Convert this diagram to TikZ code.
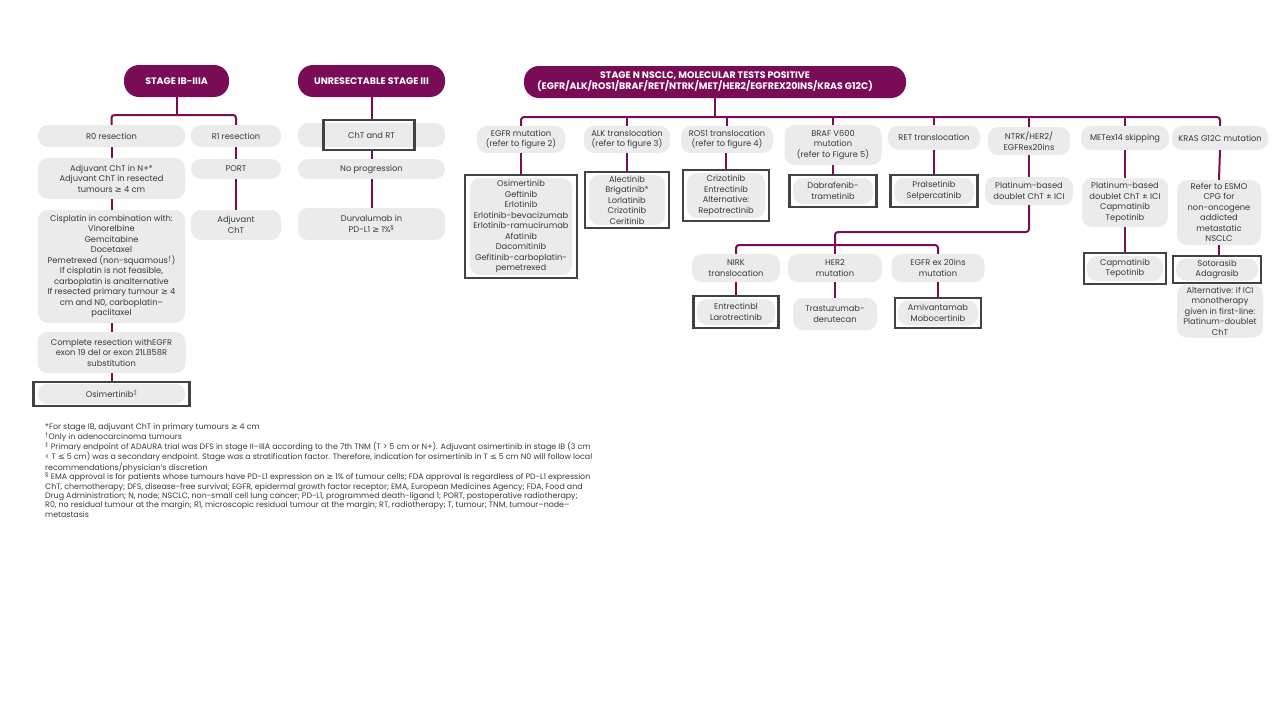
\documentclass[tikz,border=0pt]{standalone}
\usepackage{fontspec}
\setmainfont{Poppins}
\newfontfamily\symf{DejaVu Sans}
\newcommand\GEs{{\symf ≥}}
\newcommand\LEs{{\symf ≤}}
\definecolor{mar}{HTML}{7A0C57}
\definecolor{gbg}{HTML}{EBEBEB}
\definecolor{frc}{HTML}{3E4444}
\definecolor{txt}{HTML}{3A3A3A}
\begin{document}
\begin{tikzpicture}[x=1pt,y=-1pt,
 hdr/.style={fill=mar,text=white,rounded corners=15pt,font=\bfseries\fontsize{9.45}{11}\selectfont,align=center,inner sep=0pt,minimum height=32pt},
 gb/.style={fill=gbg,text=txt,rounded corners=10pt,font=\fontsize{8.3}{10.5}\selectfont,align=center,inner sep=0pt},
 frm/.style={draw=frc,line width=2.3pt,inner sep=0pt},
 wire/.style={draw=mar,line width=2pt},
]
\useasboundingbox[fill=white] (0,0) rectangle (1280,720);

% ---------- left column ----------
\node[hdr,minimum width=105pt] (h1) at (176.5,81) {STAGE IB-IIIA};
\node[gb,minimum width=147pt,minimum height=22pt] (r0) at (111.5,136) {R0 resection};
\node[gb,minimum width=90pt,minimum height=22pt] (r1) at (236,136) {R1 resection};
\node[gb,minimum width=147pt,minimum height=41pt] (a1) at (111.5,178.5) {Adjuvant ChT in N+*\\Adjuvant ChT in resected\\tumours \GEs{} 4 cm};
\node[gb,minimum width=90pt,minimum height=20pt] (port) at (236,169) {PORT};
\node[gb,minimum width=147pt,minimum height=113pt] (cis) at (111.5,266.5) {Cisplatin in combination with:\\Vinorelbine\\Gemcitabine\\Docetaxel\\Pemetrexed (non-squamous\textsuperscript{†})\\If cisplatin is not feasible,\\carboplatin is analternative\\If resected primary tumour \GEs{} 4\\cm and N0, carboplatin–\\paclitaxel};
\node[gb,minimum width=90pt,minimum height=30pt] (adj) at (236,225) {Adjuvant\\ChT};
\node[gb,minimum width=148pt,minimum height=41pt] (cr) at (111.5,352.5) {Complete resection withEGFR\\exon 19 del or exon 21L858R\\substitution};
\node[gb,minimum width=148pt,minimum height=20pt] (osi) at (111.5,394) {Osimertinib\textsuperscript{‡}};
\node[frm,minimum width=156pt,minimum height=24pt] (osif) at (111.5,394) {};

\coordinate (b1) at (176.5,115);
\draw[wire] (h1.south) -- (b1);
\draw[wire,rounded corners=3pt] (r0.north) |- (b1) -| (r1.north);
\draw[wire] (r0) -- (a1);
\draw[wire] (a1) -- (cis);
\draw[wire] (cis) -- (cr);
\draw[wire] (cr) -- (osif);
\draw[wire] (r1) -- (port);
\draw[wire] (port) -- (adj);

% ---------- middle column ----------
\node[hdr,minimum width=147pt] (h2) at (371.5,81) {UNRESECTABLE STAGE III};
\node[gb,minimum width=147pt,minimum height=24pt] (crt) at (371.5,135) {ChT and RT};
\node[frm,minimum width=91pt,minimum height=30pt] (crtf) at (369,135) {};
\node[gb,minimum width=147pt,minimum height=20pt] (np) at (371.5,169) {No progression};
\node[gb,minimum width=147pt,minimum height=32pt] (du) at (371.5,224) {Durvalumab in\\PD-L1 \GEs{} 1\%\textsuperscript{§}};
\draw[wire] (h2.south) -- (h2.south |- crtf.north);
\draw[wire] (np.north |- crtf.south) -- (np.north);
\draw[wire] (np) -- (du);

% ---------- right part ----------
\node[hdr,minimum width=382pt] (h3) at (715,82) {};
\node[hdr,fill=none] (h3t) at (705,82) {STAGE N NSCLC, MOLECULAR TESTS POSITIVE\\(EGFR/ALK/ROS1/BRAF/RET/NTRK/MET/HER2/EGFREX20INS/KRAS G12C)};

\node[gb,minimum width=88pt,minimum height=27pt] (egfr) at (521,139.5) {EGFR mutation\\(refer to figure 2)};
\node[gb,minimum width=86pt,minimum height=27pt] (alk) at (627,139.5) {ALK translocation\\(refer to figure 3)};
\node[gb,minimum width=92pt,minimum height=27pt] (ros) at (727,139.5) {ROS1 translocation\\(refer to figure 4)};
\node[gb,minimum width=97pt,minimum height=40pt] (braf) at (833,145) {BRAF V600\\mutation\\(refer to Figure 5)};
\node[gb,minimum width=92pt,minimum height=24pt] (ret) at (934,137.5) {RET translocation};
\node[gb,minimum width=82pt,minimum height=28pt] (ntrk) at (1029,141) {NTRK/HER2/\\EGFRex20ins};
\node[gb,minimum width=88pt,minimum height=24pt] (met) at (1125,138) {METex14 skipping};
\node[gb,minimum width=96pt,minimum height=24pt] (kras) at (1220,138) {KRAS G12C mutation};

\coordinate (b3) at (715,117);
\draw[wire] (h3.south) -- (b3);
\draw[wire,rounded corners=3pt] (egfr.north) |- (b3) -| (kras.north);
\foreach \n in {alk,ros,braf,ret,ntrk,met}
  \draw[wire] (\n.north) -- (\n.north |- b3);

% third level
\node[gb,minimum width=102pt,minimum height=97pt] (egfrd) at (521,226.5) {Osimertinib\\Geftinib\\Erlotinib\\Erlotinib-bevacizumab\\Erlotinib-ramucirumab\\Afatinib\\Dacomitinib\\Gefitinib-carboplatin-\\pemetrexed};
\node[frm,minimum width=112pt,minimum height=103pt] (egfrf) at (521,226.5) {};
\node[gb,minimum width=76pt,minimum height=50pt] (alkd) at (627,200) {Alectinib\\Brigatinib*\\Lorlatinib\\Crizotinib\\Ceritinib};
\node[frm,minimum width=84pt,minimum height=56pt] (alkf) at (627,200) {};
\node[gb,minimum width=78pt,minimum height=45pt] (rosd) at (726,195.5) {Crizotinib\\Entrectinib\\Alternative:\\Repotrectinib};
\node[frm,minimum width=86pt,minimum height=51pt] (rosf) at (726,195.5) {};
\node[gb,minimum width=80pt,minimum height=26pt] (brafd) at (833,191) {Dabrafenib-\\trametinib};
\node[frm,minimum width=87pt,minimum height=32pt] (braff) at (833,191) {};
\node[gb,minimum width=80pt,minimum height=26pt] (retd) at (934,191) {Pralsetinib\\Selpercatinib};
\node[frm,minimum width=87pt,minimum height=32pt] (retf) at (934,191) {};
\node[gb,minimum width=88pt,minimum height=28pt] (plat) at (1029,191) {Platinum-based\\doublet ChT ± ICI};
\node[gb,minimum width=86pt,minimum height=49pt] (metd) at (1125,202.5) {Platinum-based\\doublet ChT ± ICI\\Capmatinib\\Tepotinib};
\node[gb,minimum width=76pt,minimum height=25pt] (metd2) at (1125,268.5) {Capmatinib\\Tepotinib};
\node[frm,minimum width=82pt,minimum height=31pt] (metf) at (1125,268.5) {};
\node[gb,minimum width=84pt,minimum height=65pt] (ref) at (1219,212.5) {Refer to ESMO\\CPG for\\non-oncogene\\addicted\\metastatic\\NSCLC};
\node[gb,minimum width=82pt,minimum height=22pt] (sot) at (1217,269.5) {Sotorasib\\Adagrasib};
\node[frm,minimum width=88pt,minimum height=27pt] (sotf) at (1217,269.5) {};
\node[gb,minimum width=86pt,minimum height=53pt] (alt) at (1220,311) {Alternative: if ICI\\monotherapy\\given in first-line:\\Platinum-doublet\\ChT};

\draw[wire] (egfr) -- (egfrf);
\draw[wire] (alk) -- (alkf);
\draw[wire] (ros.south -| rosf.north) -- (rosf);
\draw[wire] (braf) -- (braff);
\draw[wire] (ret) -- (retf);
\draw[wire] (ntrk) -- (plat);
\draw[wire] (met) -- (metd);
\draw[wire] (metd) -- (metf);
\draw[wire] (kras.south) -- (ref.north);
\draw[wire] (ref.south) -- (ref.south |- sotf.north);

% fourth level (NTRK/HER2/EGFRex20ins)
\node[gb,minimum width=88pt,minimum height=28pt] (nirk) at (736,268) {NIRK\\translocation};
\node[gb,minimum width=94pt,minimum height=28pt] (her2) at (835,268) {HER2\\mutation};
\node[gb,minimum width=93pt,minimum height=28pt] (ex20) at (938,268) {EGFR ex 20ins\\mutation};
\node[gb,minimum width=78pt,minimum height=26pt] (nirkd) at (736,312) {Entrectinbl\\Larotrectinib};
\node[frm,minimum width=85pt,minimum height=32pt] (nirkf) at (736,312) {};
\node[gb,minimum width=84pt,minimum height=32pt] (tras) at (835,314) {Trastuzumab-\\derutecan};
\node[gb,minimum width=80pt,minimum height=25pt] (ex20d) at (938,313) {Amivantamab\\Mobocertinib};
\node[frm,minimum width=86pt,minimum height=30pt] (ex20f) at (938,313) {};

\coordinate (b4) at (835,232);
\coordinate (b5) at (835,245);
\draw[wire,rounded corners=3pt] (plat.south) |- (b4) -- (b5);
\draw[wire,rounded corners=3pt] (nirk.north) |- (b5) -| (ex20.north);
\draw[wire] (b5) -- (her2.north);
\draw[wire] (nirk) -- (nirkf);
\draw[wire] (her2) -- (tras);
\draw[wire] (ex20) -- (ex20f);

% ---------- footnotes ----------
\node[anchor=north west,align=left,inner sep=0pt,text=txt,font=\fontsize{7.9}{9.3}\selectfont] (fn) at (45,423.5) {%
*For stage IB, adjuvant ChT in primary tumours \GEs{} 4 cm\\
\textsuperscript{†}Only in adenocarcinoma tumours\\
\textsuperscript{‡} Primary endpoint of ADAURA trial was DFS in stage II–IIIA according to the 7th TNM (T > 5 cm or N+). Adjuvant osimertinib in stage IB (3 cm\\
< T \LEs{} 5 cm) was a secondary endpoint. Stage was a stratification factor. Therefore, indication for osimertinib in T \LEs{} 5 cm N0 will follow local\\
recommendations/physician’s discretion\\
\textsuperscript{§} EMA approval is for patients whose tumours have PD-L1 expression on \GEs{} 1\% of tumour cells; FDA approval is regardless of PD-L1 expression\\
ChT, chemotherapy; DFS, disease-free survival; EGFR, epidermal growth factor receptor; EMA, European Medicines Agency; FDA, Food and\\
Drug Administration; N, node; NSCLC, non-small cell lung cancer; PD-L1, programmed death-ligand 1; PORT, postoperative radiotherapy;\\
R0, no residual tumour at the margin; R1, microscopic residual tumour at the margin; RT, radiotherapy; T, tumour; TNM, tumour–node–\\
metastasis};
\end{tikzpicture}
\end{document}
